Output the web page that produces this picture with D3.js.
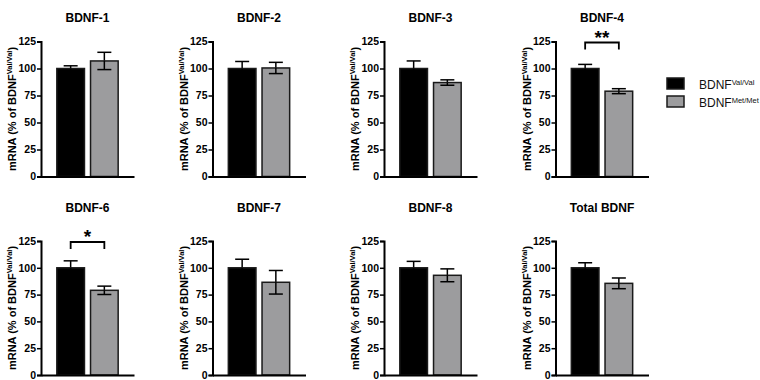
<!DOCTYPE html>
<html>
<head>
<meta charset="utf-8">
<script src="https://cdn.jsdelivr.net/npm/d3@7/dist/d3.min.js"></script>
<style>
  html, body { margin: 0; padding: 0; background: #fff; }
  svg { display: block; }
  text { font-family: "Liberation Sans", Arial, sans-serif; }
</style>
</head>
<body>
<svg id="chart" width="760" height="380"></svg>
<script>
// ---- data ----
const titles = ["BDNF-1", "BDNF-2", "BDNF-3", "BDNF-4", "BDNF-6", "BDNF-7", "BDNF-8", "Total BDNF"];
const valMean = [100, 100, 100, 100, 100, 100, 100, 100];
const valSem  = [2.5, 6.5, 7, 3.8, 6.5, 8, 6, 4.7];
const metMean = [107, 100.5, 87, 79, 79, 86.5, 93, 85.5];
const metSem  = [8, 5.2, 2.5, 2.3, 3.9, 11, 6, 5];
const significance = ["", "", "", "**", "*", "", "", ""];
const yTicks = [0, 25, 50, 75, 100, 125];
const groups = ["Val/Val", "Met/Met"];
const groupBase = "BDNF";
const groupColors = ["#000000", "#9c9c9e"];

// ---- layout ----
const svg = d3.select("#chart");
const colX = [41, 212.5, 384, 555.5];
const rowY = [{top: 41.5, bottom: 176.5, title: 22}, {top: 241, bottom: 375, title: 212}];
const axisLen = 93;

titles.forEach((t, i) => {
  const col = i % 4, row = Math.floor(i / 4);
  const x0 = colX[col];
  const r = rowY[row];
  const g = svg.append("g").attr("transform", `translate(${x0},0)`);

  const y = d3.scaleLinear().domain([0, 125]).range([r.bottom, r.top]);
  const x = d3.scaleBand().domain(groups).range([0, axisLen]).paddingInner(0.18).paddingOuter(0.47);

  const means = [valMean[i], metMean[i]];
  const sems = [valSem[i], metSem[i]];
  const data = groups.map((gname, k) => ({g: gname, m: means[k], s: sems[k], k}));

  const capW = 14;
  data.forEach(d => {
    const cx = x(d.g) + x.bandwidth() / 2;
    const eg = g.append("g").attr("stroke", "#000").attr("stroke-width", 1.5);
    eg.append("line").attr("x1", cx).attr("x2", cx).attr("y1", y(d.m + d.s)).attr("y2", y(d.m - d.s));
    eg.append("line").attr("x1", cx - capW / 2).attr("x2", cx + capW / 2).attr("y1", y(d.m + d.s)).attr("y2", y(d.m + d.s));
  });

  g.selectAll("rect.bar").data(data).enter().append("rect")
    .attr("class", "bar")
    .attr("x", d => x(d.g))
    .attr("width", x.bandwidth())
    .attr("y", d => y(d.m))
    .attr("height", d => y(0) - y(d.m))
    .attr("fill", d => groupColors[d.k])
    .attr("stroke", "#1a1a1a")
    .attr("stroke-width", 1.5);

  data.forEach(d => {
    const cx = x(d.g) + x.bandwidth() / 2;
    const eg = g.append("g").attr("stroke", "#000").attr("stroke-width", 1.5);
    eg.append("line").attr("x1", cx).attr("x2", cx).attr("y1", y(d.m)).attr("y2", y(d.m - d.s));
    eg.append("line").attr("x1", cx - capW / 2).attr("x2", cx + capW / 2).attr("y1", y(d.m - d.s)).attr("y2", y(d.m - d.s));
  });

  const yAxis = d3.axisLeft(y).tickValues(yTicks).tickSize(4).tickPadding(1).tickFormat(d3.format("d"));
  const ya = g.append("g").call(yAxis);
  ya.select(".domain").attr("stroke", "#000").attr("stroke-width", 2);
  ya.selectAll(".tick line").attr("stroke", "#000").attr("stroke-width", 1.5);
  ya.selectAll(".tick text").attr("font-size", 10.5).attr("font-weight", "bold").attr("fill", "#000")
    .attr("font-family", "'Liberation Sans', Arial, sans-serif");

  const xAxis = d3.axisBottom(x).tickSize(0).tickFormat("");
  const xa = g.append("g").attr("transform", `translate(0,${y(0)})`).call(xAxis);
  xa.select(".domain").attr("stroke", "#000").attr("stroke-width", 2);

  g.append("text")
    .attr("x", axisLen / 2).attr("y", r.title)
    .attr("text-anchor", "middle")
    .attr("font-size", 12).attr("font-weight", "bold")
    .text(t);

  const ly = g.append("text")
    .attr("transform", `translate(-25,${(r.top + r.bottom) / 2}) rotate(-90)`)
    .attr("text-anchor", "middle")
    .attr("font-size", 11).attr("font-weight", "bold");
  ly.append("tspan").text("mRNA (% of BDNF");
  ly.append("tspan").attr("font-size", 7.5).attr("dy", -4).text("Val/Val");
  ly.append("tspan").attr("dy", 4).text(")");

  if (significance[i]) {
    const x1 = x(groups[0]) + x.bandwidth() / 2;
    const x2 = x(groups[1]) + x.bandwidth() / 2;
    const yb = y(125) + 1;
    g.append("path")
      .attr("d", `M${x1},${yb + 7}V${yb}H${x2}V${yb + 7}`)
      .attr("fill", "none").attr("stroke", "#000").attr("stroke-width", 1.8);
    g.append("text")
      .attr("x", (x1 + x2) / 2).attr("y", yb + 1)
      .attr("text-anchor", "middle")
      .attr("font-size", 19).attr("font-weight", "bold")
      .text(significance[i]);
  }
});

// legend
const leg = svg.append("g").attr("transform", "translate(667,78)");
groups.forEach((gname, k) => {
  const row = leg.append("g").attr("transform", `translate(0,${k * 18})`);
  row.append("rect").attr("x", 0).attr("y", 0).attr("width", 17).attr("height", 11)
    .attr("fill", groupColors[k]).attr("stroke", "#1a1a1a").attr("stroke-width", 1.5);
  const tx = row.append("text").attr("x", 32).attr("y", 10.5).attr("font-size", 12).attr("fill", "#111");
  tx.append("tspan").text(groupBase);
  tx.append("tspan").attr("font-size", 7.5).attr("dy", -4).text(gname);
});
</script>
</body>
</html>
